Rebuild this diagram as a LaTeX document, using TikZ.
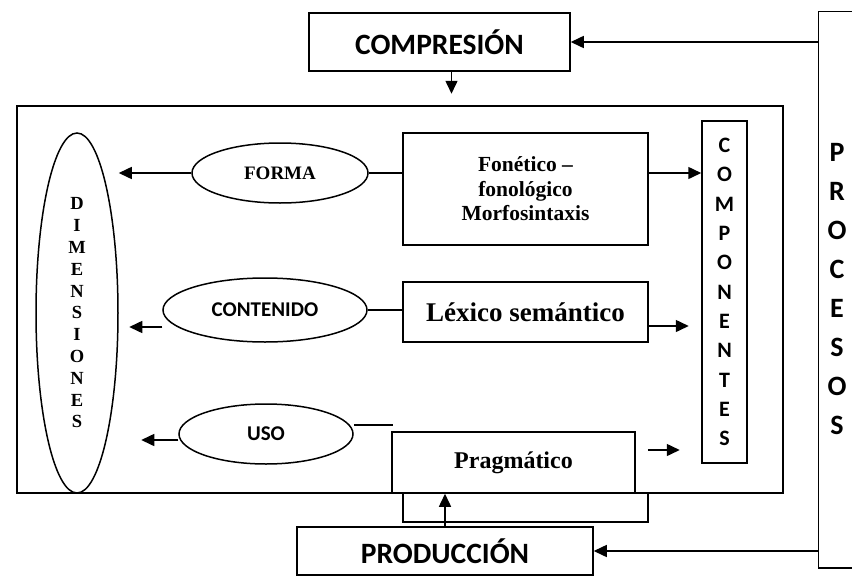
\documentclass[tikz,border=0pt]{standalone}
\usepackage{fontspec}
\setmainfont{Liberation Serif}
\newfontfamily\calibri{Carlito}
\usetikzlibrary{arrows.meta,shapes.geometric}

\begin{document}
\begin{tikzpicture}[x=1pt,y=-1pt,line width=1.5pt,
  caja/.style={draw,rectangle,inner sep=0pt},
  elipse/.style={draw,ellipse,inner sep=0pt},
  flecha/.style={-{Triangle[length=13pt,width=12pt]}}]
\useasboundingbox (0,0) rectangle (852,576);
% cajas de arriba y marco
\node[caja,minimum width=261pt,minimum height=58pt,font=\calibri\bfseries\fontsize{29.5}{30}\selectfont] (compresion) at (439.5,42) {COMPRESIÓN};
\node[caja,minimum width=766pt,minimum height=387pt] (marco) at (400,299.5) {};
\node[elipse,minimum width=82pt,minimum height=360pt,align=center,font=\bfseries\fontsize{18.5}{21.8}\selectfont] (dimensiones) at (77,313) {D\\I\\M\\E\\N\\S\\I\\O\\N\\E\\S};
% dimensiones y componentes
\node[elipse,minimum width=176pt,minimum height=60pt,font=\bfseries\fontsize{19}{20}\selectfont] (forma) at (280,173) {FORMA};
\node[caja,minimum width=245pt,minimum height=112pt,align=center,font=\bfseries\fontsize{21.5}{24.5}\selectfont] (fonetico) at (525.5,189) {Fonético –\\fonológico\\Morfosintaxis};
\node[caja,minimum width=45pt,minimum height=342pt,align=center,font=\calibri\bfseries\fontsize{22}{29.3}\selectfont] (componentes) at (724.5,292) {C\\O\\M\\P\\O\\N\\E\\N\\T\\E\\S};
\node[elipse,minimum width=204pt,minimum height=64pt,font=\calibri\bfseries\fontsize{21}{24}\selectfont] (contenido) at (265,310) {CONTENIDO};
\node[caja,minimum width=245pt,minimum height=60pt,font=\bfseries\fontsize{27}{28}\selectfont] (lexico) at (525.5,312) {Léxico semántico};
\node[elipse,minimum width=174pt,minimum height=60pt,font=\calibri\bfseries\fontsize{21}{24}\selectfont] (uso) at (266,434) {USO};
\node[caja,minimum width=243pt,minimum height=61pt,font=\bfseries\fontsize{24}{25}\selectfont] (pragmatico) at (513.5,462.5) {Pragmático};
\node[caja,minimum width=245pt,minimum height=29pt] (soporte) at (525.5,507.5) {};
% abajo y a la derecha
\node[caja,minimum width=296pt,minimum height=48pt,font=\calibri\bfseries\fontsize{29.5}{30}\selectfont] (produccion) at (445,551) {PRODUCCIÓN};
\node[minimum width=33pt,minimum height=555pt,inner sep=0pt] (procesos) at (835.5,289.5) {};
\draw (procesos.north east) -- (procesos.north west) -- (procesos.south west) -- (procesos.south east);
\node[align=center,font=\calibri\bfseries\fontsize{28}{39}\selectfont] (letras) at (837,289) {P\\R\\O\\C\\E\\S\\O\\S};
% conectores
\draw[flecha] (compresion.east -| procesos.west) -- (compresion.east);
\draw[flecha] ([xshift=12pt]compresion.south) -- ++(0,22);
\draw[flecha] (forma.west) -- (forma.west -| dimensiones.east);
\draw (forma.east) -- (forma.east -| fonetico.west);
\draw[flecha] (forma.east -| fonetico.east) -- (forma.east -| componentes.west);
\draw[flecha] ([yshift=-17pt]contenido.west) -- ++(-33,0);
\draw (contenido.east) -- (contenido.east -| lexico.west);
\draw[flecha] ([yshift=-14pt]lexico.east) -- ++(40,0);
\draw[flecha] ([yshift=-6pt]uso.west) -- ++(-37,0);
\draw ([yshift=9pt]uso.east) -- ++(39,0);
\draw[flecha] ([xshift=12pt,yshift=12.5pt]pragmatico.east) -- ++(32,0);
\draw[flecha] (produccion.north) -- (produccion.north |- pragmatico.south);
\draw[flecha] (produccion.east -| procesos.west) -- (produccion.east);
\end{tikzpicture}
\end{document}
